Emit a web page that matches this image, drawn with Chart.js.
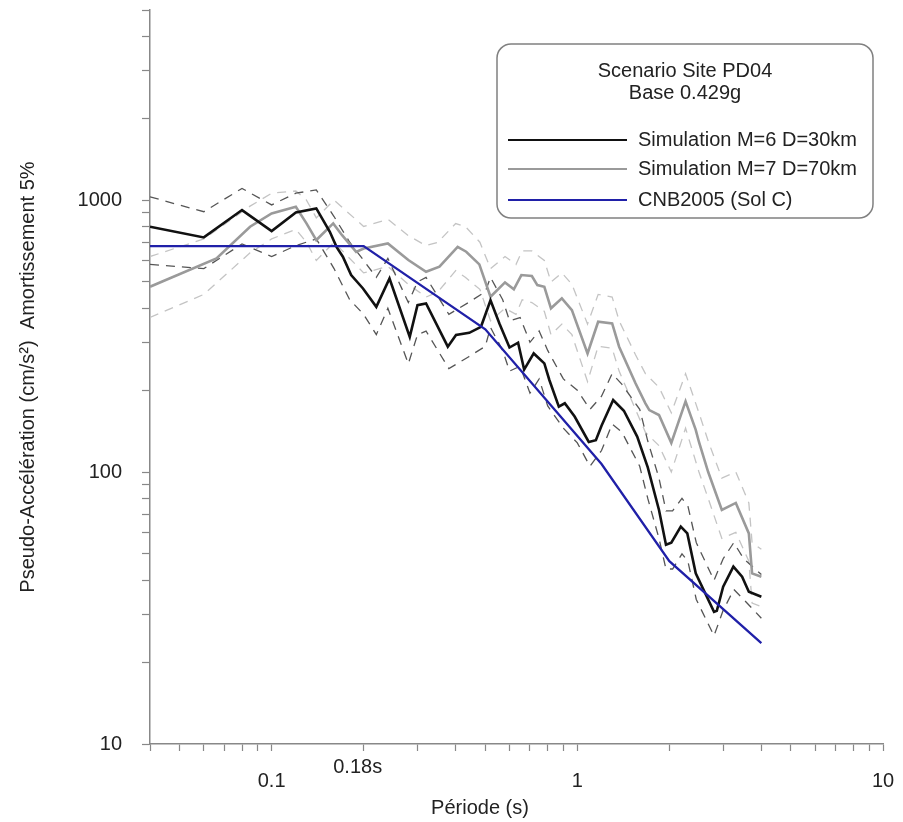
<!DOCTYPE html>
<html lang="fr">
<head>
<meta charset="UTF-8">
<title>Scenario Site PD04 - spectres</title>
<script src="https://cdn.jsdelivr.net/npm/chart.js"></script>
<style>
  body { margin: 0; background: #fff; }
  .wrap { width: 903px; height: 822px; position: relative; }
</style>
</head>
<body>
<div class="wrap"><canvas id="spectre"></canvas></div>
<script>
// valeurs : periode (s) / pseudo-acceleration (cm/s2)
const periodeM6 = [0.04, 0.06, 0.08, 0.1, 0.12, 0.14, 0.155, 0.163, 0.171, 0.182, 0.199, 0.22, 0.243, 0.283, 0.3, 0.32,
  0.377, 0.401, 0.443, 0.484, 0.52, 0.556, 0.6, 0.64, 0.67, 0.72, 0.78, 0.81, 0.87, 0.91, 0.98, 1.09, 1.15, 1.2, 1.31,
  1.42, 1.57, 1.7, 1.85, 1.95, 2.03, 2.18, 2.29, 2.44, 2.8, 2.86, 3.0, 3.24, 3.46, 3.64, 4.0];
const accM6 = [798, 729, 919, 769, 900, 932, 765, 673, 619, 530, 473, 405, 515, 314, 411, 417,
  289, 319, 325, 342, 428, 352, 287, 299, 238, 273, 251, 218, 174, 179, 160, 129, 131, 148, 184,
  168, 135, 104, 72.5, 54, 55, 63, 59.5, 42.4, 30.6, 30.9, 37.9, 44.9, 41.2, 36.3, 34.8];

const periodeM7 = [0.04, 0.066, 0.085, 0.1, 0.12, 0.13, 0.14, 0.159, 0.17, 0.189, 0.2, 0.24, 0.28, 0.32, 0.354, 0.406,
  0.433, 0.478, 0.52, 0.58, 0.62, 0.656, 0.71, 0.74, 0.78, 0.82, 0.89, 0.96, 1.08, 1.17, 1.3, 1.37, 1.55, 1.67, 1.72,
  1.85, 2.03, 2.26, 2.44, 2.5, 2.68, 2.97, 3.3, 3.64, 3.73, 4.0];
const accM7 = [480, 610, 798, 893, 945, 821, 713, 821, 743, 645, 664, 693, 602, 545, 569, 673,
  646, 580, 441, 498, 470, 530, 526, 487, 480, 400, 435, 394, 273, 357, 352, 289, 212, 179, 169,
  162, 128, 182, 143, 129, 100, 72.5, 77, 59.5, 42.4, 41.2];

// enveloppes (tirets)
const periodeBandeM6 = [0.04, 0.06, 0.08, 0.1, 0.12, 0.14, 0.16, 0.18, 0.2, 0.22, 0.24, 0.28, 0.3, 0.32, 0.38, 0.44,
  0.5, 0.52, 0.57, 0.6, 0.65, 0.7, 0.75, 0.8, 0.9, 1.0, 1.1, 1.2, 1.3, 1.4, 1.6, 1.7, 1.85, 1.95, 2.05, 2.2, 2.3,
  2.45, 2.8, 3.0, 3.25, 3.5, 4.0];
const hautM6 = [1028, 906, 1104, 960, 1060, 1090, 870, 700, 600, 520, 610, 420, 500, 520, 380, 420,
  460, 520, 430, 360, 370, 300, 330, 280, 220, 200, 170, 190, 230, 210, 170, 130, 95, 72, 72, 80, 75,
  55, 40, 48, 55, 48, 42];
const basM6 = [580, 560, 690, 620, 680, 720, 560, 430, 380, 320, 400, 250, 320, 330, 240, 265,
  290, 340, 280, 235, 245, 195, 220, 175, 145, 128, 105, 120, 150, 140, 105, 80, 57, 44, 44, 50, 47,
  34, 25, 31, 37, 34, 29];

const periodeBandeM7 = [0.04, 0.06, 0.085, 0.1, 0.12, 0.13, 0.14, 0.16, 0.2, 0.24, 0.28, 0.32, 0.35, 0.4, 0.43, 0.48,
  0.52, 0.58, 0.63, 0.66, 0.71, 0.78, 0.82, 0.89, 0.96, 1.08, 1.17, 1.3, 1.37, 1.55, 1.67, 1.85, 2.03, 2.26, 2.5,
  2.68, 2.97, 3.3, 3.64, 3.73, 4.0];
const hautM7 = [620, 720, 950, 1060, 1080, 1000, 860, 1000, 800, 850, 740, 680, 700, 820, 800, 700,
  560, 620, 580, 650, 650, 600, 500, 540, 490, 350, 450, 440, 360, 270, 230, 205, 165, 230, 165,
  130, 95, 100, 77, 55, 52];
const basM7 = [370, 450, 640, 720, 780, 700, 600, 700, 540, 570, 490, 440, 460, 550, 520, 470,
  360, 400, 380, 430, 420, 390, 320, 350, 320, 215, 290, 285, 235, 170, 140, 125, 100, 145, 100,
  80, 57, 60, 47, 33, 32];

// spectre reglementaire
const periodeCNB = [0.04, 0.2, 0.5, 1.2, 2.0, 4.0];
const accCNB = [677, 677, 335, 107, 47, 23.5];

// graduations
const xTicks = [0.04, 0.05, 0.06, 0.07, 0.08, 0.09, 0.1, 0.2, 0.3, 0.4, 0.5, 0.6, 0.7, 0.8, 0.9,
  1, 2, 3, 4, 5, 6, 7, 8, 9, 10];
const xLabels = [0.1, 1, 10];
const yTicks = [10, 20, 30, 40, 50, 60, 70, 80, 90, 100, 200, 300, 400, 500, 600, 700, 800, 900,
  1000, 2000, 3000, 4000, 5000];
const yLabels = [10, 100, 1000];

const titreLegende = ['Scenario Site PD04', 'Base 0.429g'];
const nomM6 = 'Simulation M=6 D=30km';
const nomM7 = 'Simulation M=7 D=70km';
const nomCNB = 'CNB2005 (Sol C)';
const repereT = 0.18;
const repereTexte = '0.18s';

const police = "'Liberation Sans', Arial, Helvetica, sans-serif";

function pts(xs, ys) {
  return xs.map((x, i) => ({ x: x, y: ys[i] }));
}

const legendeBoite = {
  id: 'legendeBoite',
  afterDraw(chart) {
    const ctx = chart.ctx;
    const xs = chart.scales.x;
    ctx.save();

    // repere 0.18s et titre de l'axe x
    ctx.fillStyle = '#222';
    ctx.font = '20px ' + police;
    ctx.textAlign = 'center';
    ctx.textBaseline = 'middle';
    ctx.fillText(repereTexte, xs.getPixelForValue(repereT) + 8, 767);
    ctx.fillText('Période (s)', 480, 808);

    // cadre de la legende
    const bx = 497, by = 44, bw = 376, bh = 174;
    ctx.beginPath();
    ctx.roundRect(bx, by, bw, bh, 14);
    ctx.fillStyle = '#fff';
    ctx.fill();
    ctx.strokeStyle = '#808080';
    ctx.lineWidth = 1.5;
    ctx.stroke();

    ctx.fillStyle = '#222';
    ctx.textAlign = 'center';
    titreLegende.forEach((t, i) => ctx.fillText(t, 685, 71 + i * 22));

    const lignes = [nomM6, nomM7, nomCNB];
    const ys = [140, 169, 200];
    ctx.textAlign = 'left';
    lignes.forEach((nom, i) => {
      const ds = chart.data.datasets.find(d => d.label === nom);
      ctx.beginPath();
      ctx.moveTo(508, ys[i]);
      ctx.lineTo(627, ys[i]);
      ctx.strokeStyle = ds.borderColor;
      ctx.lineWidth = 2;
      ctx.stroke();
      ctx.fillStyle = '#222';
      ctx.fillText(nom, 638, ys[i]);
    });
    ctx.restore();
  }
};

const ligne = (label, data, couleur, largeur, tirets) => ({
  label: label,
  data: data,
  borderColor: couleur,
  borderWidth: largeur,
  borderDash: tirets || [],
  showLine: true,
  pointRadius: 0,
  tension: 0,
  fill: false
});

new Chart(document.getElementById('spectre'), {
  type: 'scatter',
  data: {
    datasets: [
      ligne(nomCNB, pts(periodeCNB, accCNB), '#2020a8', 2.3),
      ligne(nomM6, pts(periodeM6, accM6), '#111111', 2.6),
      ligne(nomM7, pts(periodeM7, accM7), '#9a9a9a', 2.6),
      ligne('M6 +', pts(periodeBandeM6, hautM6), '#555555', 1.3, [9, 7]),
      ligne('M6 -', pts(periodeBandeM6, basM6), '#555555', 1.3, [9, 7]),
      ligne('M7 +', pts(periodeBandeM7, hautM7), '#c4c4c4', 1.3, [9, 7]),
      ligne('M7 -', pts(periodeBandeM7, basM7), '#c4c4c4', 1.3, [9, 7])
    ]
  },
  options: {
    responsive: true,
    maintainAspectRatio: false,
    animation: false,
    layout: { padding: { top: 10, right: 20, left: 0, bottom: 0 } },
    plugins: {
      legend: { display: false },
      tooltip: { enabled: false }
    },
    scales: {
      x: {
        type: 'logarithmic',
        position: 'bottom',
        min: 0.04,
        max: 10,
        afterBuildTicks: s => { s.ticks = xTicks.map(v => ({ value: v })); },
        afterFit: s => { s.height = 78; s.paddingLeft = 0; s.paddingRight = 0; },
        grid: { drawOnChartArea: false, tickLength: 7, tickColor: '#888', tickWidth: 1.2 },
        border: { color: '#888', width: 1.5 },
        ticks: {
          autoSkip: false,
          maxRotation: 0,
          padding: 18,
          color: '#222',
          font: { size: 20, family: police },
          callback: v => xLabels.includes(v) ? String(v) : ''
        }
      },
      y: {
        type: 'logarithmic',
        min: 10,
        max: 5000,
        afterBuildTicks: s => { s.ticks = yTicks.map(v => ({ value: v })); },
        afterFit: s => { s.width = 150; s.paddingTop = 0; s.paddingBottom = 0; },
        grid: { drawOnChartArea: false, tickLength: 8, tickColor: '#888', tickWidth: 1.2 },
        border: { color: '#888', width: 1.5 },
        title: {
          display: true,
          text: 'Pseudo-Accélération (cm/s²)  Amortissement 5%',
          color: '#222',
          font: { size: 20, family: police },
          padding: { top: 16, bottom: 0 }
        },
        ticks: {
          autoSkip: false,
          padding: 20,
          color: '#222',
          font: { size: 20, family: police },
          callback: v => yLabels.includes(v) ? String(v) : ''
        }
      }
    }
  },
  plugins: [legendeBoite]
});
</script>
</body>
</html>
